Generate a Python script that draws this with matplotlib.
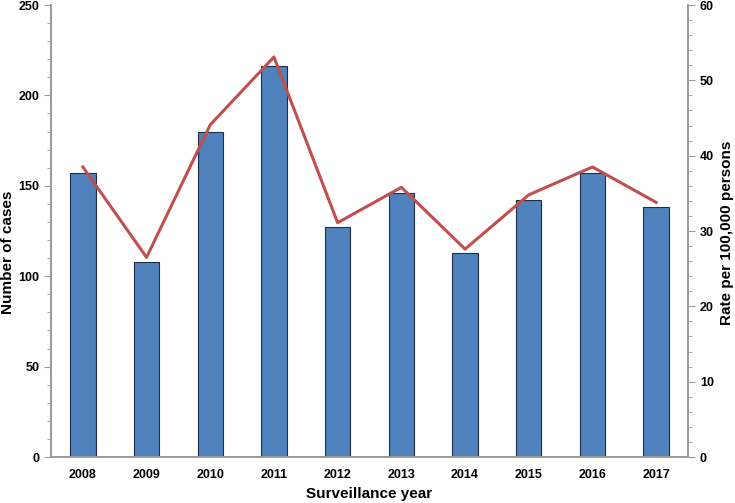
import matplotlib
matplotlib.use("Agg")
import matplotlib.pyplot as plt
from matplotlib.ticker import MultipleLocator

years = ["2008", "2009", "2010", "2011", "2012", "2013", "2014", "2015", "2016", "2017"]
cases = [157, 108, 180, 216, 127, 146, 113, 142, 157, 138]
rates = [38.5, 26.5, 44.1, 53.1, 31.1, 35.8, 27.6, 34.8, 38.5, 33.8]

plt.rcParams['font.family'] = ['Liberation Sans', 'DejaVu Sans']
plt.rcParams['font.weight'] = 'bold'

fig = plt.figure(figsize=(7.35, 5.03), dpi=100)
ax = fig.add_axes([51/735, 46/503, 637/735, 452/503])
x = list(range(len(years)))
ax.bar(x, cases, width=0.4, color='#4F81BD', edgecolor='#1F2D4A', linewidth=0.8, zorder=2)
ax.set_xlim(-0.5, len(years) - 0.5)
ax.set_ylim(0, 250)
ax.set_xticks(x)
ax.set_xticklabels(years)
ax.yaxis.set_major_locator(MultipleLocator(50))
ax.yaxis.set_minor_locator(MultipleLocator(10))
ax.tick_params(axis='x', length=0, labelsize=9, pad=9)
ax.tick_params(axis='y', which='major', length=5, color='#999999', labelsize=9)
ax.tick_params(axis='y', which='minor', length=3, color='#999999')
ax.spines['top'].set_visible(False)
for s in ['left', 'bottom', 'right']:
    ax.spines[s].set_color('#999999')
    ax.spines[s].set_linewidth(1.2)
ax.set_xlabel('Surveillance year', fontsize=11, fontweight='bold')
ax.xaxis.set_label_coords(0.5, (457 - 494) / 452)
ax.xaxis.label.set_va('center')
ax.set_ylabel('Number of cases', fontsize=11, fontweight='bold')
ax.yaxis.set_label_coords((8 - 51) / 637, (457 - 252) / 452)
ax.yaxis.label.set_va('center')

ax2 = ax.twinx()
ax2.plot(x, rates, color='#C0504D', linewidth=2.2, zorder=3)
ax2.set_ylim(0, 60)
ax2.yaxis.set_major_locator(MultipleLocator(10))
ax2.yaxis.set_minor_locator(MultipleLocator(2))
ax2.tick_params(axis='y', which='major', length=5, color='#999999', labelsize=9)
ax2.tick_params(axis='y', which='minor', length=3, color='#999999')
ax2.spines['top'].set_visible(False)
for s in ['left', 'bottom', 'right']:
    ax2.spines[s].set_color('#999999')
    ax2.spines[s].set_linewidth(1.2)
ax2.set_ylabel('Rate per 100,000 persons', fontsize=11, fontweight='bold')
ax2.yaxis.set_label_coords((727 - 51) / 637, (457 - 233) / 452)
ax2.yaxis.label.set_va('center')

fig.savefig('out.png', dpi=100)
